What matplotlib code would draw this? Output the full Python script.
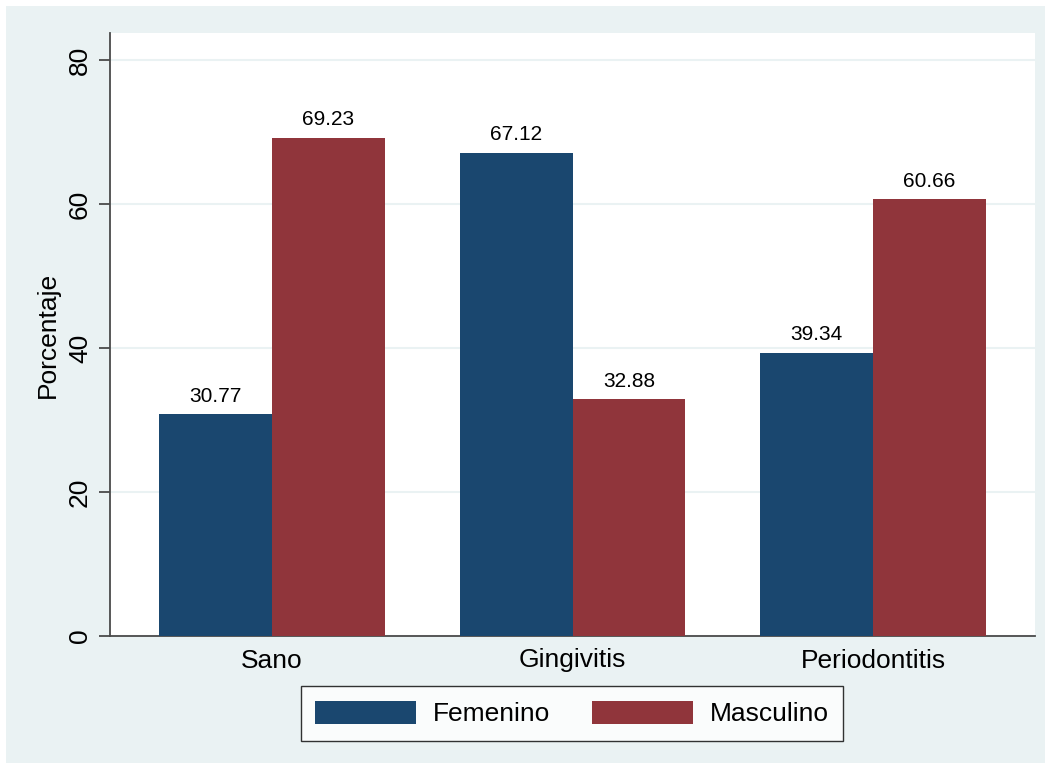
import numpy as np
import matplotlib.pyplot as plt
from matplotlib.patches import Rectangle

plt.rcParams['font.family'] = ['Liberation Sans', 'DejaVu Sans']

categories = ["Sano", "Gingivitis", "Periodontitis"]
femenino = [30.77, 67.12, 39.34]
masculino = [69.23, 32.88, 60.66]
series_names = ["Femenino", "Masculino"]
yticks = [0, 20, 40, 60, 80]

navy = "#1A476F"
maroon = "#90353B"
bg = "#EAF2F3"
axcol = "#4a4a4a"

fig = plt.figure(figsize=(10.51, 7.69), dpi=100)
fig.patch.set_facecolor("white")
fig.patches.append(Rectangle((6 / 1051, 6 / 769), 1039 / 1051, 757 / 769,
                             transform=fig.transFigure, facecolor=bg,
                             edgecolor="none", zorder=-10))

ax = fig.add_axes([110 / 1051, (769 - 636) / 769, 925 / 1051, 603 / 769])
ax.set_facecolor("white")

x = np.arange(len(categories))
w = 0.376
b1 = ax.bar(x - w / 2, femenino, w, color=navy, label=series_names[0], zorder=3)
b2 = ax.bar(x + w / 2, masculino, w, color=maroon, label=series_names[1], zorder=3)

for bars, vals in ((b1, femenino), (b2, masculino)):
    for r, v in zip(bars, vals):
        ax.annotate(f"{v:.2f}", (r.get_x() + r.get_width() / 2, v),
                    xytext=(0, 6), textcoords="offset points",
                    ha="center", va="bottom", fontsize=15)

ax.set_xlim(-0.539, 2.539)
ax.set_ylim(0, 83.75)
ax.set_xticks(x)
ax.set_xticklabels(categories, fontsize=19)
ax.tick_params(axis="x", length=0, pad=9)
ax.set_yticks(yticks)
ax.set_yticklabels([str(t) for t in yticks], fontsize=19, rotation=90, va="center")
ax.tick_params(axis="y", length=8, width=1.3, color=axcol, pad=5)
ax.set_ylabel("Porcentaje", fontsize=19, labelpad=6)

ax.yaxis.grid(True, color=bg, linewidth=1.5, zorder=0)
ax.set_axisbelow(True)
for s in ("top", "right"):
    ax.spines[s].set_visible(False)
for s in ("left", "bottom"):
    ax.spines[s].set_color(axcol)
    ax.spines[s].set_linewidth(1.3)

leg = fig.legend(loc="center", bbox_to_anchor=(572 / 1051, (769 - 713.5) / 769),
                 ncol=2, fontsize=19, frameon=True, fancybox=False,
                 handlelength=3.8, handleheight=1.0, handletextpad=0.65,
                 columnspacing=1.6, borderpad=0.55, borderaxespad=0)
leg.get_frame().set_edgecolor("black")
leg.get_frame().set_linewidth(1.0)

fig.savefig("out.png", dpi=100, facecolor=fig.get_facecolor())
